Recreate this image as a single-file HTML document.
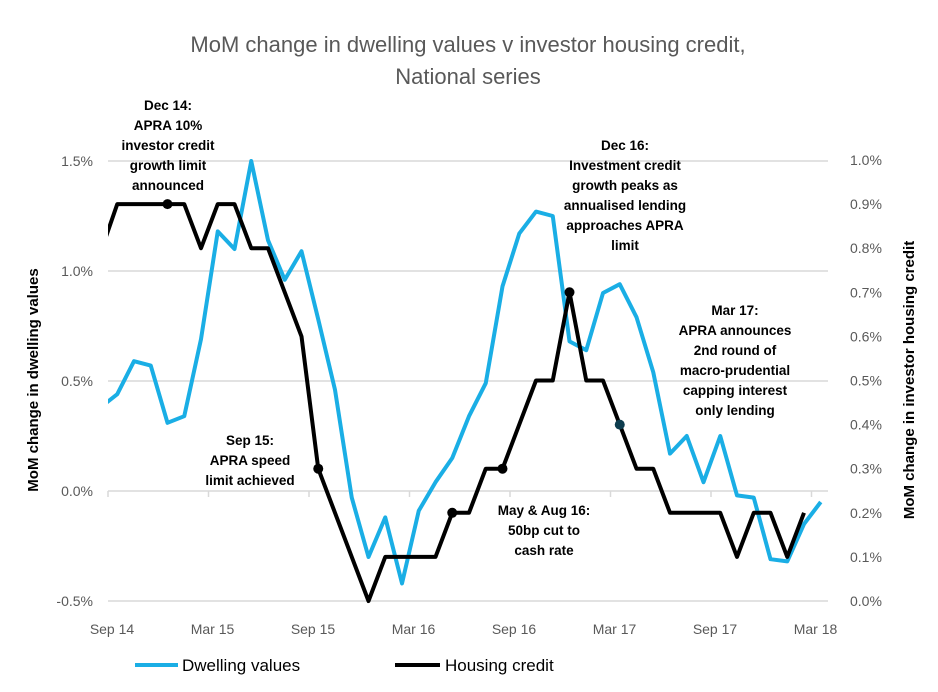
<!DOCTYPE html>
<html><head><meta charset="utf-8"><style>
body{margin:0;background:#fff;}
svg text{font-family:"Liberation Sans",sans-serif;}
</style></head><body>
<svg id="c" width="938" height="687" viewBox="0 0 938 687">
<g id="title" fill="#595959" font-size="22" text-anchor="middle">
<text x="468" y="52">MoM change in dwelling values v investor housing credit,</text>
<text x="468" y="84">National series</text></g>
<g id="grid"></g><g id="axes"></g>
<defs><clipPath id="clip"><rect x="108" y="100" width="730" height="520"/></clipPath></defs>
<g id="series" clip-path="url(#clip)"></g>
<g id="marks"></g>
<text transform="translate(38,380) rotate(-90)" text-anchor="middle" font-size="15" font-weight="bold">MoM change in dwelling values</text>
<text transform="translate(914,380) rotate(-90)" text-anchor="middle" font-size="15" font-weight="bold">MoM change in investor housing credit</text>
<g font-size="13.5" font-weight="bold" text-anchor="middle" fill="#000">
<text x="168" y="110">Dec 14:</text><text x="168" y="130">APRA 10%</text><text x="168" y="150">investor credit</text><text x="168" y="170">growth limit</text><text x="168" y="190">announced</text>
<text x="250" y="445">Sep 15:</text><text x="250" y="465">APRA speed</text><text x="250" y="485">limit achieved</text>
<text x="625" y="150">Dec 16:</text><text x="625" y="170">Investment credit</text><text x="625" y="190">growth peaks as</text><text x="625" y="210">annualised lending</text><text x="625" y="230">approaches APRA</text><text x="625" y="250">limit</text>
<text x="735" y="315">Mar 17:</text><text x="735" y="335">APRA announces</text><text x="735" y="355">2nd round of</text><text x="735" y="375">macro-prudential</text><text x="735" y="395">capping interest</text><text x="735" y="415">only lending</text>
<text x="544" y="515">May &amp; Aug 16:</text><text x="544" y="535">50bp cut to</text><text x="544" y="555">cash rate</text>
</g>
<g>
<line x1="135" y1="665" x2="178" y2="665" stroke="#1aaee5" stroke-width="4"/>
<text x="182" y="671" font-size="17" fill="#000">Dwelling values</text>
<line x1="395" y1="665" x2="440" y2="665" stroke="#000" stroke-width="4"/>
<text x="445" y="671" font-size="17" fill="#000">Housing credit</text>
</g>
</svg>
<script>
const dwelling=[0.38,0.44,0.59,0.57,0.31,0.34,0.69,1.18,1.10,1.50,1.14,0.96,1.09,0.78,0.46,-0.03,-0.30,-0.12,-0.42,-0.09,0.04,0.15,0.34,0.49,0.93,1.17,1.27,1.25,0.68,0.64,0.90,0.94,0.79,0.54,0.17,0.25,0.04,0.25,-0.02,-0.03,-0.31,-0.32,-0.15,-0.05];
const credit=[0.79,0.9,0.9,0.9,0.9,0.9,0.8,0.9,0.9,0.8,0.8,0.7,0.6,0.3,0.2,0.1,0.0,0.1,0.1,0.1,0.1,0.2,0.2,0.3,0.3,0.4,0.5,0.5,0.7,0.5,0.5,0.4,0.3,0.3,0.2,0.2,0.2,0.2,0.1,0.2,0.2,0.1,0.2];
const markerIdx=[4,13,21,24,28,31];
const leftTicks=[1.5,1.0,0.5,0.0,-0.5];
const leftLabels=["1.5%","1.0%","0.5%","0.0%","-0.5%"];
const rightTicks=[1.0,0.9,0.8,0.7,0.6,0.5,0.4,0.3,0.2,0.1,0.0];
const xLabels=["Sep 14","Mar 15","Sep 15","Mar 16","Sep 16","Mar 17","Sep 17","Mar 18"];
const NS="http://www.w3.org/2000/svg";
const X=i=>100.5+16.75*i;
const YL=v=>491-v*220;
const YR=v=>601-v*441;
function mk(t,a,p){const e=document.createElementNS(NS,t);for(const k in a)e.setAttribute(k,a[k]);p.appendChild(e);return e;}
const grid=document.getElementById('grid'),axes=document.getElementById('axes');
leftTicks.forEach((v,i)=>{
 const l=mk('line',{x1:108,x2:828,y1:YL(v),y2:YL(v),stroke:'#d9d9d9','stroke-width':1.5},grid);
 
 const t=mk('text',{x:93,y:YL(v)+5,'text-anchor':'end','font-size':14,fill:'#595959'},axes);
 t.textContent=leftLabels[i];
});
rightTicks.forEach(v=>{
 const t=mk('text',{x:850,y:YR(v)+5,'font-size':14,fill:'#595959'},axes);
 t.textContent=v.toFixed(1)+'%';
});
xLabels.forEach((s,k)=>{
 const x=108+100.5*k;
 const tk=mk('line',{x1:x,x2:x,y1:491,y2:497,stroke:'#d9d9d9','stroke-width':1.5},axes);
 
 const t=mk('text',{x:x+4,y:634,'text-anchor':'middle','font-size':14,fill:'#595959'},axes);
 t.textContent=s;
});
const ser=document.getElementById('series');
const p1=mk('polyline',{points:dwelling.map((v,i)=>X(i)+','+YL(v)).join(' '),fill:'none',stroke:'#1aaee5','stroke-width':4,'stroke-linejoin':'round'},ser);

const p2=mk('polyline',{points:credit.map((v,i)=>X(i)+','+YR(v)).join(' '),fill:'none',stroke:'#000','stroke-width':4,'stroke-linejoin':'round'},ser);

const marks=document.getElementById('marks');
markerIdx.forEach((i,k)=>{
 const c=mk('circle',{cx:X(i),cy:YR(credit[i]),r:5,fill:k===5?'#0e3d4f':'#000'},marks);
 
});
</script>
</body></html>
